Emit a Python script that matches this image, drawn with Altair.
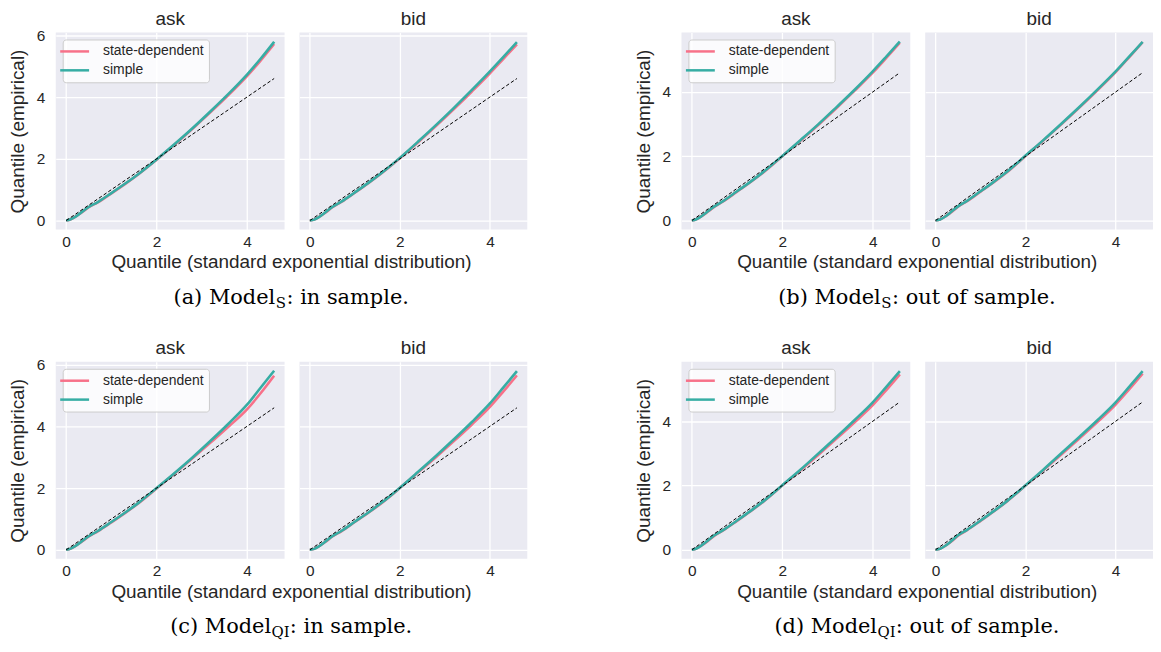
import altair as alt
import pandas as pd

# ---------------- data ----------------
x_q = [0, 0.1, 0.2, 0.35, 0.5, 0.7, 1.0, 1.3, 1.6, 2.0, 2.4, 2.8, 3.2, 3.6, 4.0, 4.3, 4.6]

a_ask_state  = [0, 0.04, 0.12, 0.27, 0.43, 0.59, 0.88, 1.18, 1.50, 1.97, 2.46, 2.98, 3.52, 4.08, 4.68, 5.18, 5.72]
a_ask_simple = [0, 0.04, 0.12, 0.28, 0.44, 0.60, 0.89, 1.19, 1.51, 1.98, 2.48, 3.00, 3.55, 4.12, 4.73, 5.24, 5.79]
a_bid_state  = [0, 0.03, 0.11, 0.26, 0.43, 0.60, 0.90, 1.21, 1.54, 2.02, 2.53, 3.06, 3.61, 4.18, 4.77, 5.24, 5.71]
a_bid_simple = [0, 0.03, 0.11, 0.27, 0.44, 0.61, 0.91, 1.22, 1.55, 2.03, 2.55, 3.09, 3.65, 4.23, 4.83, 5.30, 5.78]
b_ask_state  = [0, 0.04, 0.12, 0.27, 0.43, 0.60, 0.90, 1.20, 1.52, 2.00, 2.48, 2.98, 3.50, 4.04, 4.60, 5.06, 5.53]
b_ask_simple = [0, 0.04, 0.12, 0.28, 0.44, 0.61, 0.91, 1.21, 1.53, 2.01, 2.50, 3.00, 3.53, 4.07, 4.64, 5.10, 5.57]
b_bid_state  = [0, 0.03, 0.11, 0.26, 0.43, 0.60, 0.90, 1.20, 1.52, 2.01, 2.50, 3.00, 3.52, 4.06, 4.62, 5.08, 5.55]
b_bid_simple = [0, 0.03, 0.11, 0.27, 0.44, 0.61, 0.91, 1.21, 1.53, 2.02, 2.51, 3.02, 3.54, 4.08, 4.64, 5.10, 5.56]
c_ask_state  = [0, 0.04, 0.12, 0.27, 0.43, 0.60, 0.89, 1.19, 1.51, 1.99, 2.47, 2.97, 3.48, 4.00, 4.55, 5.07, 5.64]
c_ask_simple = [0, 0.04, 0.12, 0.28, 0.44, 0.61, 0.90, 1.20, 1.52, 2.00, 2.49, 3.00, 3.54, 4.10, 4.70, 5.25, 5.80]
c_bid_state  = [0, 0.03, 0.11, 0.26, 0.43, 0.60, 0.90, 1.20, 1.52, 2.00, 2.50, 3.00, 3.52, 4.06, 4.63, 5.13, 5.65]
c_bid_simple = [0, 0.03, 0.11, 0.27, 0.44, 0.61, 0.91, 1.21, 1.53, 2.01, 2.52, 3.04, 3.58, 4.14, 4.74, 5.26, 5.79]
d_ask_state  = [0, 0.04, 0.12, 0.27, 0.44, 0.61, 0.90, 1.20, 1.52, 2.00, 2.47, 2.96, 3.46, 3.97, 4.50, 4.97, 5.46]
d_ask_simple = [0, 0.04, 0.12, 0.28, 0.45, 0.62, 0.91, 1.21, 1.53, 2.01, 2.49, 3.00, 3.51, 4.04, 4.59, 5.07, 5.56]
d_bid_state  = [0, 0.03, 0.11, 0.26, 0.44, 0.61, 0.90, 1.20, 1.52, 2.00, 2.48, 2.97, 3.47, 3.98, 4.52, 4.99, 5.48]
d_bid_simple = [0, 0.03, 0.11, 0.27, 0.45, 0.62, 0.91, 1.21, 1.53, 2.01, 2.50, 3.01, 3.52, 4.04, 4.59, 5.07, 5.56]

diag_x = [0, 4.6]
diag_y = [0, 4.6]

series_names = ["state-dependent", "simple"]
series_colors = ["#f77189", "#36ada4"]
panel_titles = ["ask", "bid"]
x_ticks = [0, 2, 4]
x_domain = [-0.23, 4.83]
y_domain_tall = [-0.29, 6.09]
y_domain_short = [-0.28, 5.85]
y_ticks_tall = [0, 2, 4, 6]
y_ticks_short = [0, 2, 4]
x_axis_title = "Quantile (standard exponential distribution)"
y_axis_title = "Quantile (empirical)"
captions = [
    ["(a) Model", "S", ": in sample."],
    ["(b) Model", "S", ": out of sample."],
    ["(c) Model", "QI", ": in sample."],
    ["(d) Model", "QI", ": out of sample."],
]

# ---------------- layout / style ----------------
PW_ASK = 230
PW_BID = 229
GAP = 15
SPACER_W = 125
H = 198
ROW_GAP = 133
SANS = "Liberation Sans"
SERIF = "DejaVu Serif"
DARK = "#262626"
BG = "#EAEAF2"
CAP_SIZE = 21
SUB_SIZE = 15
TITLE_SIZE = 19

SERIF_W = {' ': 0.318, '(': 0.390, ')': 0.390, 'a': 0.596, 'b': 0.640, 'c': 0.559,
           'd': 0.640, 'e': 0.592, 'f': 0.370, 'i': 0.320, 'l': 0.320, 'm': 0.948,
           'n': 0.644, 'o': 0.602, 'p': 0.640, 's': 0.513, 't': 0.402, 'u': 0.644,
           'M': 0.995, 'S': 0.686, 'Q': 0.787, 'I': 0.402, ':': 0.337, '.': 0.318}


def text_w(s, size):
    return sum(SERIF_W.get(ch, 0.6) for ch in s) * size


def text_layer(txt, x, y, size, font, align, color, baseline="alphabetic"):
    return alt.Chart(pd.DataFrame({"t": [txt]})).mark_text(
        align=align, baseline=baseline, fontSize=size, font=font, color=color
    ).encode(text="t:N", x=alt.value(x), y=alt.value(y))


def panel(state, simple, side, ydom, yticks, caption=None):
    first = side == 0
    pw = PW_ASK if first else PW_BID
    xs = alt.Scale(domain=x_domain, nice=False, zero=False)
    ys = alt.Scale(domain=ydom, nice=False, zero=False)
    xaxis = alt.Axis(values=x_ticks, title=None, labelPadding=5, format="d")
    if first:
        yaxis = alt.Axis(values=yticks, title=y_axis_title, labelPadding=11, titlePadding=9, format="d")
        legend = alt.Legend(title=None, orient="top-left", offset=7, padding=4.5,
                            fillColor="rgba(255,255,255,0.8)", strokeColor="#cccccc",
                            cornerRadius=3, labelFont=SANS, labelFontSize=14,
                            labelColor=DARK, symbolType="M-2.42,0H2.42", symbolSize=144,
                            symbolStrokeWidth=2.5, labelOffset=21, rowPadding=4)
    else:
        yaxis = alt.Axis(values=yticks, title=None, labels=False)
        legend = None
    cscale = alt.Scale(domain=series_names, range=series_colors)

    def series_layer(vals, name):
        df = pd.DataFrame({"x": x_q, "y": vals, "series": [name] * len(x_q)})
        if legend is None:
            col = alt.Color("series:N", scale=cscale, legend=None)
        else:
            col = alt.Color("series:N", scale=cscale, legend=legend)
        return alt.Chart(df).mark_line(strokeWidth=2.6, interpolate="monotone").encode(
            x=alt.X("x:Q", scale=xs, axis=xaxis),
            y=alt.Y("y:Q", scale=ys, axis=yaxis),
            color=col,
        )

    diag = alt.Chart(pd.DataFrame({"x": diag_x, "y": diag_y})).mark_line(
        color="black", strokeWidth=1, strokeDash=[3.5, 2.2]
    ).encode(x=alt.X("x:Q", scale=xs), y=alt.Y("y:Q", scale=ys))

    layers = [series_layer(state, series_names[0]), series_layer(simple, series_names[1]), diag]
    layers.append(text_layer(panel_titles[side], pw / 2, -8, TITLE_SIZE, SANS, "center", DARK))

    if first and caption is not None:
        cx = (PW_ASK + GAP + PW_BID) / 2
        layers.append(text_layer(x_axis_title, cx, H + 39, TITLE_SIZE, SANS, "center", DARK))
        p1, sub, p3 = caption
        w1 = text_w(p1, CAP_SIZE)
        ws = text_w(sub, SUB_SIZE) + 1
        w3 = text_w(p3, CAP_SIZE)
        start = cx - (w1 + ws + w3) / 2
        sx = start + w1
        layers.append(text_layer(p1, sx, H + 75, CAP_SIZE, SERIF, "right", "black"))
        layers.append(text_layer(sub, sx + 0.5, H + 79, SUB_SIZE, SERIF, "left", "black"))
        layers.append(text_layer(p3, sx + ws, H + 75, CAP_SIZE, SERIF, "left", "black"))

    return alt.layer(*layers).properties(
        width=pw, height=H,
        view=alt.ViewBackground(fill=BG, strokeWidth=0),
    )


def spacer():
    return alt.Chart(pd.DataFrame({"v": [0]})).mark_point(opacity=0).encode(
        x=alt.value(0), y=alt.value(0)
    ).properties(width=SPACER_W, height=H)


charts = [
    panel(a_ask_state, a_ask_simple, 0, y_domain_tall, y_ticks_tall, captions[0]),
    panel(a_bid_state, a_bid_simple, 1, y_domain_tall, y_ticks_tall),
    spacer(),
    panel(b_ask_state, b_ask_simple, 0, y_domain_short, y_ticks_short, captions[1]),
    panel(b_bid_state, b_bid_simple, 1, y_domain_short, y_ticks_short),
    panel(c_ask_state, c_ask_simple, 0, y_domain_tall, y_ticks_tall, captions[2]),
    panel(c_bid_state, c_bid_simple, 1, y_domain_tall, y_ticks_tall),
    spacer(),
    panel(d_ask_state, d_ask_simple, 0, y_domain_short, y_ticks_short, captions[3]),
    panel(d_bid_state, d_bid_simple, 1, y_domain_short, y_ticks_short),
]

chart = alt.concat(
    *charts, columns=5, spacing={"row": ROW_GAP, "column": GAP}, bounds="flush", align="each"
).resolve_scale(color="independent").resolve_legend(color="independent").properties(
    padding=0, background="white"
).configure_view(strokeWidth=0).configure_axis(
    grid=True, gridColor="white", gridWidth=1.3, domain=False, ticks=False,
    labelFont=SANS, labelFontSize=15.5, labelColor=DARK,
    titleFont=SANS, titleFontSize=TITLE_SIZE, titleColor=DARK, titleFontWeight="normal",
)

chart.save("out.html", embed_options={"renderer": "svg", "actions": False})
